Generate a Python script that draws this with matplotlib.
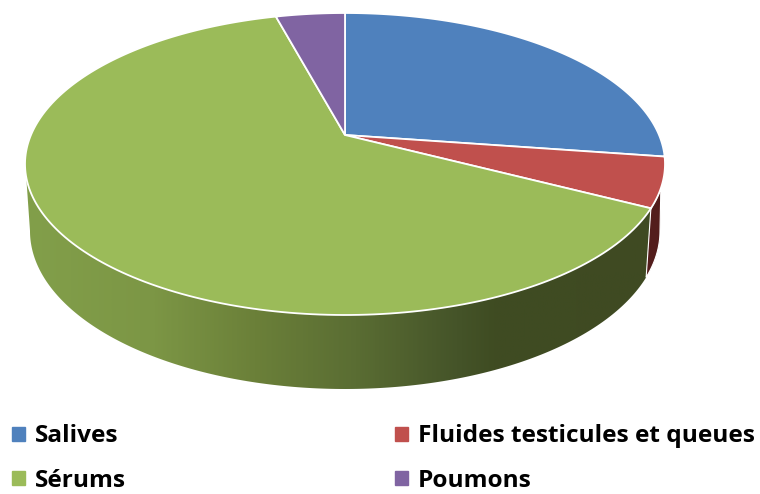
import numpy as np
import matplotlib
matplotlib.use("Agg")
import matplotlib.pyplot as plt
from matplotlib.patches import Polygon, Patch
from matplotlib.colors import LinearSegmentedColormap

# data
labels = ["Salives", "Fluides testicules et queues", "Sérums", "Poumons"]
values = [27.3, 5.3, 63.2, 4.2]
colors = ["#4f81bd", "#c0504d", "#9bbb59", "#8064a2"]

# pie geometry in pixels (perspective view of a disc)
cx = 345
k = 0.192
top = dict(cy=164, rx=320, ry=151)
low = dict(cy=231, rx=315, ry=158)


# clockwise angle from 12 o'clock (degrees) -> pixel position on a disc
def project(deg, r, e):
    t = np.radians(deg)
    x = r * np.sin(t)
    y = r * np.cos(t)
    d = 1 + k * y
    px = cx + e["rx"] * np.sqrt(1 - k**2) * x / d
    py = e["cy"] - k * e["ry"] - e["ry"] * (1 - k**2) * y / d
    return px, py


def arc(a, b, e, n=200):
    return np.column_stack(project(np.linspace(a, b, n), 1, e))


fig = plt.figure(figsize=(7.6, 4.94), dpi=100)
ax = fig.add_axes([0, 0, 1, 1])
ax.set_xlim(0, 760)
ax.set_ylim(494, 0)
ax.axis("off")

edges = np.cumsum([0] + values) * 3.6
apex = project(0, 0, top)

# green side with its left to right shading
side_cmap = LinearSegmentedColormap.from_list("side", [
    (0.0, "#829f4a"), (0.2, "#7c9645"), (0.36, "#6b8039"), (0.52, "#5a6d33"),
    (0.68, "#455429"), (0.74, "#3f4c22"), (1.0, "#3f4a22")])
grad = np.linspace(0, 1, 400).reshape(1, -1)
img = ax.imshow(grad, cmap=side_cmap, extent=[26, 660, 400, 150], aspect="auto", zorder=1)
ax.set_xlim(0, 760)
ax.set_ylim(494, 0)
side_pts = np.vstack([arc(edges[2], 254, top), arc(259, edges[2], low)])
side = Polygon(side_pts, closed=True, transform=ax.transData, fc="none", ec="none")
ax.add_patch(side)
img.set_clip_path(side)

# sliver of the red slice side
red_pts = np.vstack([arc(edges[2], 110, top, 40), arc(101, edges[2], low, 40)])
ax.add_patch(Polygon(red_pts, closed=True, fc="#531d1c", ec="white", lw=0.8, zorder=2))

# top face
for i in range(len(values)):
    pts = np.vstack([[apex], arc(edges[i], edges[i + 1], top)])
    ax.add_patch(Polygon(pts, closed=True, fc=colors[i], ec="white", lw=1.3, zorder=3))

# legend
handles = [Patch(color=colors[i]) for i in [0, 2, 1, 3]]
names = [labels[i] for i in [0, 2, 1, 3]]
ax.legend(handles, names, ncol=2, loc="lower left", bbox_to_anchor=(12 / 760, 0.002),
          frameon=False, borderaxespad=0, borderpad=0,
          prop=dict(family="Open Sans", weight="bold", size=17.6),
          handlelength=0.55, handleheight=0.5, handletextpad=0.39,
          columnspacing=11.0, labelspacing=0.85)

fig.savefig("out.png", dpi=100)
